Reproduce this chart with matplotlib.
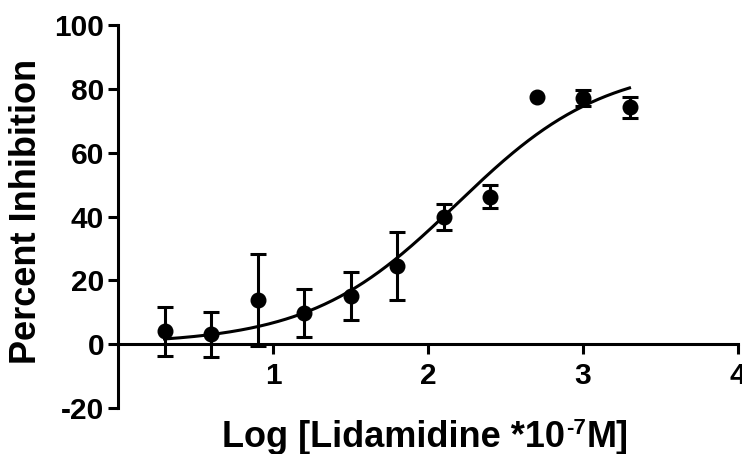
import numpy as np
import matplotlib
matplotlib.use("Agg")
import matplotlib.pyplot as plt

plt.rcParams['font.family'] = ['Liberation Sans', 'DejaVu Sans']
plt.rcParams['font.weight'] = 'bold'
plt.rcParams['axes.unicode_minus'] = False

# Data
log_conc = [0.3, 0.6, 0.9, 1.2, 1.5, 1.8, 2.1, 2.4, 2.7, 3.0, 3.3]
inhibition = [4.1, 3.1, 13.9, 9.7, 15.1, 24.5, 39.8, 46.2, 77.4, 77.2, 74.2]
sem = [7.7, 7.0, 14.4, 7.6, 7.4, 10.8, 4.0, 3.6, 0.0, 2.5, 3.2]

# Fitted sigmoidal dose-response parameters
fit_bottom = 0.0
fit_top = 88.0
fit_logec50 = 2.187
fit_hill = 0.914
fit_range = (0.3, 3.3)

x_ticks = [1, 2, 3, 4]
y_ticks = [-20, 0, 20, 40, 60, 80, 100]

fig = plt.figure(figsize=(7.42, 4.54), dpi=100)
ax = fig.add_axes([118/742, 46/454, 620/742, 383/454])

xf = np.linspace(fit_range[0], fit_range[1], 300)
yf = fit_bottom + (fit_top - fit_bottom) / (1 + 10 ** ((fit_logec50 - xf) * fit_hill))
ax.plot(xf, yf, color='black', lw=2.2, zorder=2)

xa = np.array(log_conc)
ya = np.array(inhibition)
ea = np.array(sem)
m = ea > 0
ax.errorbar(xa[m], ya[m], yerr=ea[m], fmt='none', ecolor='black',
            elinewidth=2.2, capsize=6, capthick=2.2, zorder=3)
ax.plot(xa, ya, 'o', color='black', ms=10.5, zorder=4)

ax.set_xlim(0, 4)
ax.set_ylim(-20, 100)
ax.set_xticks(x_ticks)
ax.set_yticks(y_ticks)
ax.spines['top'].set_visible(False)
ax.spines['right'].set_visible(False)
ax.spines['bottom'].set_position(('data', 0))
for s in ['left', 'bottom']:
    ax.spines[s].set_linewidth(2.2)
ax.tick_params(axis='both', width=2.2, length=7, labelsize=21.5)
ax.tick_params(axis='x', pad=6)
ax.tick_params(axis='y', pad=3)
for lab in ax.get_xticklabels() + ax.get_yticklabels():
    lab.set_fontweight('bold')

fig.text(27 / 742, 1 - 211 / 454, 'Percent Inhibition', fontsize=26, fontweight='bold',
         rotation=90, ha='center', va='center')

# x-axis label composed of pieces so that the superscript uses a plain hyphen
t1 = fig.text(222 / 742, 1 - 447 / 454, 'Log [Lidamidine *10', fontsize=26,
              fontweight='bold', ha='left', va='baseline')
t2 = ax.annotate('-7', xy=(1, 1), xycoords=t1, xytext=(0.5, 1.5),
                 textcoords='offset points', fontsize=16, fontweight='bold',
                 ha='left', va='top', annotation_clip=False)
t3 = ax.annotate('M]', xy=(1, 0), xycoords=(t2, t1), xytext=(0.5, 0),
                 textcoords='offset points', fontsize=26, fontweight='bold',
                 ha='left', va='bottom', annotation_clip=False)

fig.savefig('out.png', dpi=100)
